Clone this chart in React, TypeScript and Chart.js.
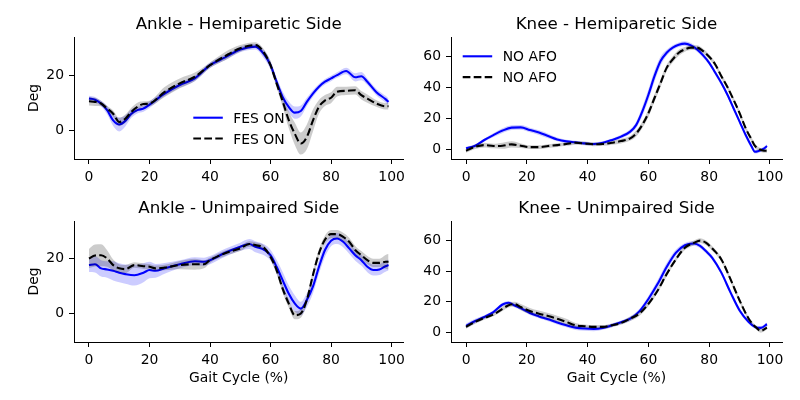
import { useEffect, useRef } from 'react'

import { Chart, type ChartConfiguration, type Plugin, registerables } from 'chart.js'

Chart.register(...registerables)

const FONT = "'DejaVu Sans', sans-serif"

// tick values
const xTicks = [0, 20, 40, 60, 80, 100]
const ankleTicks = [0, 20]
const kneeTicks = [0, 20, 40, 60]

// Ankle - Hemiparetic Side
const ahX = [0, 2, 4, 6, 8, 10, 12, 14, 16, 18, 20, 25, 30, 35, 40, 45, 50, 55, 58, 60, 62, 64, 66, 68, 70, 72, 74, 76, 78, 80, 82, 85, 88, 90, 92, 95, 98, 99]
const ahBlue = [11.5, 11.1, 9.7, 7.3, 3.6, 2.1, 3.4, 6.0, 7.3, 7.9, 9.3, 13.3, 16.4, 18.8, 23.6, 26.4, 29.3, 30.3, 27.3, 23.6, 17.6, 12.1, 8.5, 6.4, 7.0, 10.3, 13.3, 15.8, 17.6, 18.8, 20.0, 21.5, 19.2, 19.6, 17.6, 13.8, 11.3, 10.3]
const ahBlueSd = [1, 1, 1, 1.5, 2, 2.5, 2, 1.5, 1.2, 1.2, 1.2, 1, 1, 1, 1, 1, 1, 1, 1.5, 1.5, 1.5, 2, 2, 2.2, 2, 1.5, 1.2, 1, 1, 1, 1, 1.2, 1.5, 1.5, 1.2, 1.2, 1.2, 1.2]
const ahBlack = [10.5, 10.3, 9.7, 7.9, 6.0, 3.0, 4.2, 6.7, 8.5, 9.5, 9.7, 13.9, 17.0, 19.4, 23.6, 26.9, 29.7, 30.9, 27.9, 23.6, 17.0, 10.5, 3.8, -1.2, -4.8, -2.4, 3.5, 8.5, 10.8, 11.8, 14.0, 14.3, 14.5, 12.7, 11.5, 9.7, 8.7, 8.7]
const ahBlackSd = [1.5, 1.5, 1, 1, 1.2, 1.5, 1.5, 1.5, 1.5, 1, 1, 1.8, 1.8, 1.5, 1, 1.5, 1.2, 1, 1.2, 1.5, 1.5, 2, 3, 4, 4, 4.5, 4, 2.5, 2, 2, 1.8, 1.5, 1.5, 1.5, 1.5, 1.2, 1.2, 1.2]

// Ankle - Unimpaired Side
const auX = [0, 2, 4, 6, 8, 10, 12, 15, 18, 20, 22, 25, 30, 35, 38, 40, 45, 50, 53, 55, 58, 60, 62, 64, 66, 68, 70, 72, 74, 76, 78, 80, 82, 84, 86, 88, 90, 92, 94, 96, 98, 99]
const auBlue = [17.7, 18.0, 16.5, 16.1, 15.6, 14.9, 14.4, 14.0, 14.9, 15.9, 15.6, 16.5, 18.0, 19.1, 18.9, 19.5, 22.2, 24.4, 25.4, 24.4, 23.2, 21.3, 17.1, 12.2, 7.3, 3.7, 1.8, 4.9, 9.8, 17.0, 23.2, 26.6, 27.4, 26.2, 23.8, 21.3, 19.5, 17.1, 15.9, 16.1, 17.3, 17.7]
const auBlueSd = [2.5, 3, 3, 3, 3.5, 3.5, 3.5, 3.8, 3.5, 3, 2.5, 2, 1.5, 1.5, 1.5, 1.5, 1.5, 1.5, 1.8, 2, 2, 2, 2.5, 3, 3, 3, 2.5, 2.5, 2.5, 2.5, 2.5, 2, 2, 2, 2, 2, 2, 2, 2, 2, 2, 2]
const auBlack = [20.1, 21.2, 21.3, 20.1, 17.7, 16.5, 16.2, 17.7, 17.3, 17.1, 16.5, 16.8, 17.7, 18.0, 18.0, 19.5, 22.0, 23.8, 25.4, 25.0, 23.8, 20.7, 15.9, 9.1, 3.7, -0.6, 0.0, 5.0, 14.0, 22.0, 27.0, 29.0, 29.0, 28.0, 26.2, 23.2, 21.3, 19.5, 18.5, 18.5, 18.9, 18.9]
const auBlackSd = [3.5, 4, 4, 3, 2, 1.5, 1.5, 1, 1, 1, 1, 1, 1.5, 2, 1.5, 1, 1, 1, 1, 1, 1, 1, 1.5, 1.5, 1.5, 1.5, 1.5, 1.5, 1.5, 1.5, 1.5, 1.5, 1.5, 1.5, 1.5, 1.5, 1.5, 1.5, 1.5, 1.5, 2.5, 2.8]

// Knee - Hemiparetic Side
const khX = [0, 3, 6, 9, 12, 15, 18, 21, 24, 27, 30, 33, 36, 39, 42, 45, 48, 51, 54, 56, 58, 60, 62, 64, 66, 68, 70, 72, 74, 76, 78, 80, 82, 84, 86, 88, 90, 92, 94, 95, 96, 98, 99]
const khBlue = [0.7, 2.4, 6.1, 9.3, 12.2, 14.1, 14.3, 12.6, 10.9, 8.7, 6.5, 5.2, 4.6, 3.9, 3.5, 4.3, 6.1, 8.3, 11.5, 15.9, 24.6, 35.4, 47.4, 57.2, 62.6, 65.9, 67.8, 68.5, 67.4, 64.8, 60.9, 56.1, 49.6, 43.0, 35.4, 26.7, 18.0, 9.3, 1.7, -1.5, -1.2, 0.5, 2.2]
const khBlueSd = [1, 1, 1, 1.2, 1.5, 1.5, 1.5, 1.5, 1.5, 1.5, 1.2, 1, 1, 1, 1, 1, 1, 1.2, 1.5, 2, 3, 3.5, 3.5, 3, 2, 1.5, 1.5, 1.5, 1.5, 1.5, 1.5, 1.5, 1.5, 1.5, 1.5, 1.5, 1.5, 1.5, 1.5, 1.2, 1.2, 1.2, 1.2]
const khBlack = [-0.9, 1.7, 2.8, 2.2, 2.4, 3.3, 2.4, 1.5, 1.5, 2.2, 2.8, 3.5, 4.3, 3.9, 3.3, 3.5, 4.3, 5.4, 7.2, 10.4, 15.9, 23.5, 33.3, 43.0, 52.8, 58.3, 62.6, 64.8, 65.9, 65.9, 63.7, 60.0, 55.0, 47.4, 40.4, 32.2, 23.5, 13.7, 6.1, 2.4, 0.7, -0.9, -0.9]
const khBlackSd = [1.2, 1.5, 1.5, 1.5, 2, 2, 1.5, 1.2, 1.2, 1.2, 1.2, 1.2, 1.2, 1.2, 1.2, 1.2, 1.2, 1.5, 1.5, 2, 2, 2.5, 2.5, 2.5, 2, 2, 2, 1.5, 1.5, 1.5, 1.5, 1.5, 1.5, 1.5, 1.5, 1.5, 1.5, 1.5, 1.5, 1.5, 1.2, 1.2, 1.2]

// Knee - Unimpaired Side
const kuX = [0, 3, 6, 9, 12, 14, 16, 18, 21, 24, 27, 30, 33, 36, 39, 42, 45, 48, 51, 54, 57, 60, 63, 66, 69, 72, 75, 77, 79, 81, 84, 87, 90, 93, 95, 97, 99]
const kuBlue = [4.3, 7.5, 10.1, 13.3, 18.3, 19.4, 17.6, 15.9, 12.7, 10.5, 8.6, 6.5, 4.7, 3.2, 2.6, 2.4, 3.0, 4.7, 6.7, 9.0, 13.8, 21.9, 31.6, 42.8, 52.0, 57.0, 58.1, 56.5, 53.0, 48.8, 39.1, 26.2, 14.4, 6.9, 3.7, 3.0, 5.4]
const kuBlueSd = [1.5, 1.5, 1.2, 1.2, 1.2, 1.2, 1.2, 1.2, 1.2, 1.2, 1.2, 1.2, 1.2, 1.5, 1.5, 1.5, 1.2, 1.2, 1.2, 1.5, 1.5, 2, 2.5, 2.5, 2, 1.5, 1.5, 1.5, 1.5, 1.5, 1.5, 1.5, 1.5, 1.2, 1.2, 1.2, 1.2]
const kuBlack = [3.7, 6.9, 9.5, 11.8, 15.5, 17.8, 18.5, 16.6, 14.0, 12.3, 10.8, 9.0, 6.9, 4.7, 4.1, 3.7, 3.7, 4.7, 6.2, 9.0, 12.3, 18.7, 27.3, 38.1, 47.7, 55.3, 58.5, 60.0, 58.5, 54.8, 47.7, 34.8, 20.9, 9.0, 4.1, 1.1, 3.2]
const kuBlackSd = [1.2, 1.2, 1.2, 1.2, 1.5, 1.5, 1.5, 2, 2, 2, 2, 2, 2, 1.5, 1.2, 1.2, 1.2, 1.2, 1.2, 1.5, 1.5, 1.5, 1.5, 1.5, 1.5, 1.5, 1.5, 1.5, 1.5, 1.5, 1.5, 1.5, 1.5, 1.2, 1.2, 1.2, 1.2]

interface Box {
  left: number
  top: number
  width: number
  height: number
}

interface PanelProps {
  title: string
  xs: number[]
  blue: number[]
  blueSd: number[]
  black: number[]
  blackSd: number[]
  yMin: number
  yMax: number
  yTicks: number[]
  box: Box
  area: { left: number; top: number; right: number; bottom: number }
  legend?: { label: string; x: number; y: number }
  yLabel?: boolean
  xLabel?: boolean
}

const makeDecor = (p: PanelProps): Plugin<'line'> => ({
  id: 'decor',
  afterDraw(chart) {
    const { ctx, chartArea: a } = chart
    const cx = (a.left + a.right) / 2
    ctx.save()
    ctx.fillStyle = '#000'
    ctx.textBaseline = 'alphabetic'
    ctx.textAlign = 'center'
    ctx.font = `16.7px ${FONT}`
    ctx.fillText(p.title, cx, a.top - 8.3)
    ctx.font = `13.9px ${FONT}`
    if (p.xLabel) ctx.fillText('Gait Cycle (%)', cx, a.bottom + 40)
    if (p.yLabel) {
      ctx.save()
      ctx.translate(37.5, (a.top + a.bottom) / 2)
      ctx.rotate(-Math.PI / 2)
      ctx.fillText('Deg', 0, 0)
      ctx.restore()
    }
    if (p.legend) {
      const { label, x, y } = p.legend
      ctx.textAlign = 'left'
      ;[0, 1].forEach((i) => {
        const ry = a.top + y + i * 20.8
        ctx.beginPath()
        ctx.lineWidth = 2.1
        ctx.strokeStyle = i ? '#000' : '#0000ff'
        ctx.setLineDash(i ? [7.7, 3.3] : [])
        ctx.moveTo(a.left + x, ry)
        ctx.lineTo(a.left + x + 29.5, ry)
        ctx.stroke()
        ctx.fillText(label, a.left + x + 40, ry + 5)
      })
    }
    ctx.restore()
  },
})

const axisStyle = {
  grid: { display: true, drawOnChartArea: false, drawTicks: true, tickLength: 5, color: '#000', tickColor: '#000', tickWidth: 1 },
  border: { display: true, color: '#000', width: 1 },
  ticks: { color: '#000', padding: 5, autoSkip: false, maxRotation: 0, font: { family: FONT, size: 13.9 } },
}

function Panel(p: PanelProps) {
  const chartRef = useRef<HTMLCanvasElement>(null)
  const chartInstance = useRef<Chart | null>(null)

  useEffect(() => {
    if (!chartRef.current) return
    if (chartInstance.current) chartInstance.current.destroy()

    const pts = (ys: number[], sd?: number[], sign = 0) =>
      p.xs.map((x, i) => ({ x, y: ys[i] + (sd ? sign * sd[i] : 0) }))

    const band = (ys: number[], sd: number[], color: string, order: number) => [
      { data: pts(ys, sd, -1), borderWidth: 0, pointRadius: 0, fill: false, order: order + 1, cubicInterpolationMode: 'monotone' as const },
      { data: pts(ys, sd, 1), borderWidth: 0, pointRadius: 0, fill: '-1', backgroundColor: color, order, cubicInterpolationMode: 'monotone' as const },
    ]

    const config: ChartConfiguration<'line'> = {
      type: 'line',
      data: {
        datasets: [
          ...band(p.blue, p.blueSd, 'rgba(0,0,255,0.2)', 5),
          { data: pts(p.blue), borderColor: '#0000ff', borderWidth: 2.1, pointRadius: 0, fill: false, order: 4, borderJoinStyle: 'round', cubicInterpolationMode: 'monotone' },
          ...band(p.black, p.blackSd, 'rgba(0,0,0,0.2)', 2),
          { data: pts(p.black), borderColor: '#000', borderWidth: 2.1, borderDash: [7.7, 3.3], pointRadius: 0, fill: false, order: 1, borderJoinStyle: 'round', cubicInterpolationMode: 'monotone' },
        ],
      },
      options: {
        responsive: true,
        maintainAspectRatio: false,
        animation: false,
        events: [],
        layout: { padding: { left: 0, top: p.area.top, right: p.box.width - p.area.right, bottom: 0 } },
        plugins: {
          legend: { display: false },
          tooltip: { enabled: false },
          title: { display: false },
        },
        scales: {
          x: {
            type: 'linear',
            min: -4.95,
            max: 103.95,
            ...axisStyle,
            afterBuildTicks: (s) => {
              s.ticks = xTicks.map((value) => ({ value }))
            },
            afterFit: (s) => {
              s.height = p.box.height - p.area.bottom
            },
          },
          y: {
            type: 'linear',
            min: p.yMin,
            max: p.yMax,
            ...axisStyle,
            afterBuildTicks: (s) => {
              s.ticks = p.yTicks.map((value) => ({ value }))
            },
            afterFit: (s) => {
              s.width = p.area.left
            },
          },
        },
      },
      plugins: [makeDecor(p)],
    }

    chartInstance.current = new Chart(chartRef.current, config)

    return () => {
      if (chartInstance.current) {
        chartInstance.current.destroy()
        chartInstance.current = null
      }
    }
  }, [p])

  return (
    <div style={{ position: 'absolute', left: p.box.left, top: p.box.top, width: p.box.width, height: p.box.height }}>
      <canvas ref={chartRef} />
    </div>
  )
}

const topLeft = { left: 0, top: 0, width: 410, height: 190 }
const topRight = { left: 410, top: 0, width: 390, height: 190 }
const botLeft = { left: 0, top: 190, width: 410, height: 210 }
const botRight = { left: 410, top: 190, width: 390, height: 210 }

const panels: PanelProps[] = [
  {
    title: 'Ankle - Hemiparetic Side',
    xs: ahX, blue: ahBlue, blueSd: ahBlueSd, black: ahBlack, blackSd: ahBlackSd,
    yMin: -10.4, yMax: 33.8, yTicks: ankleTicks,
    box: topLeft, area: { left: 74, top: 37, right: 405, bottom: 159 },
    legend: { label: 'FES ON', x: 119.3, y: 80.7 },
    yLabel: true,
  },
  {
    title: 'Knee - Hemiparetic Side',
    xs: khX, blue: khBlue, blueSd: khBlueSd, black: khBlack, blackSd: khBlackSd,
    yMin: -6.2, yMax: 72.8, yTicks: kneeTicks,
    box: topRight, area: { left: 41, top: 37, right: 372, bottom: 159 },
    legend: { label: 'NO AFO', x: 11.7, y: 19.3 },
  },
  {
    title: 'Ankle - Unimpaired Side',
    xs: auX, blue: auBlue, blueSd: auBlueSd, black: auBlack, blackSd: auBlackSd,
    yMin: -10.4, yMax: 33.8, yTicks: ankleTicks,
    box: botLeft, area: { left: 74, top: 31, right: 405, bottom: 152 },
    yLabel: true, xLabel: true,
  },
  {
    title: 'Knee - Unimpaired Side',
    xs: kuX, blue: kuBlue, blueSd: kuBlueSd, black: kuBlack, blackSd: kuBlackSd,
    yMin: -6.2, yMax: 72.8, yTicks: kneeTicks,
    box: botRight, area: { left: 41, top: 31, right: 372, bottom: 152 },
    xLabel: true,
  },
]

export default function App() {
  useEffect(() => {
    document.body.style.margin = '0'
  }, [])

  return (
    <div style={{ position: 'absolute', left: 0, top: 0, width: 800, height: 400, background: '#fff' }}>
      {panels.map((p) => (
        <Panel key={p.title} {...p} />
      ))}
    </div>
  )
}
